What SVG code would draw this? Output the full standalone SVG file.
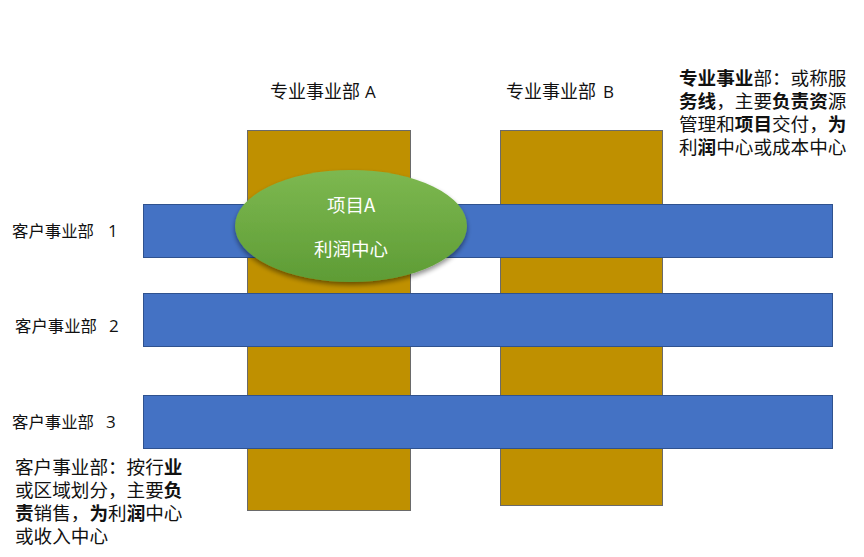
<svg xmlns="http://www.w3.org/2000/svg" width="864" height="557" viewBox="0 0 864 557">
<defs>
<style>
text{font-family:"Noto Sans CJK SC","Liberation Sans",sans-serif;fill:#111;}
.top{font-size:18px;}
.lbl{font-size:16.4px;}
.lat{font-family:"Open Sans","Liberation Sans",sans-serif;font-size:17px;}
.note{font-size:18.6px;}
.b{font-weight:bold;}
.col{fill:#BF9000;stroke:#6a6a6a;stroke-width:1;}
.bar{fill:#4472C4;stroke:#2F528F;stroke-width:1;}
.ell{font-size:18.5px;fill:#fff;text-anchor:middle;}
</style>
<linearGradient id="g" x1="0" y1="0" x2="0" y2="1">
<stop offset="0" stop-color="#7DB850"/>
<stop offset="1" stop-color="#5E9C35"/>
</linearGradient>
<filter id="sh" x="-20%" y="-20%" width="140%" height="150%">
<feGaussianBlur in="SourceAlpha" stdDeviation="2.5"/>
<feOffset dx="0" dy="3" result="o"/>
<feComponentTransfer><feFuncA type="linear" slope="0.45"/></feComponentTransfer>
<feMerge><feMergeNode/><feMergeNode in="SourceGraphic"/></feMerge>
</filter>
</defs>
<rect width="864" height="557" fill="#fff"/>
<g id="colA"><rect class="col" x="247.5" y="130.5" width="163" height="380"/></g>
<g id="colB"><rect class="col" x="500.5" y="130.5" width="162" height="375"/></g>
<g id="bar1"><rect class="bar" x="143.5" y="204.5" width="689" height="53"/></g>
<g id="bar2"><rect class="bar" x="143.5" y="293.5" width="689" height="53"/></g>
<g id="bar3"><rect class="bar" x="143.5" y="395.5" width="689" height="53"/></g>
<g id="projA">
<ellipse cx="351" cy="226" rx="116" ry="56" fill="url(#g)" filter="url(#sh)"/>
<text class="ell" x="351" y="212">项目A</text>
<text class="ell" x="351" y="256">利润中心</text>
</g>
<g id="labels">
<text class="top" x="270" y="98">专业事业部<tspan class="lat" x="365">A</tspan></text>
<text class="top" x="506" y="98">专业事业部<tspan class="lat" x="603">B</tspan></text>
<text class="lbl" x="12" y="237">客户事业部<tspan class="lat" x="108">1</tspan></text>
<text class="lbl" x="15" y="332">客户事业部<tspan class="lat" x="109">2</tspan></text>
<text class="lbl" x="12" y="428">客户事业部<tspan class="lat" x="106">3</tspan></text>
</g>
<g id="noteTop">
<text class="note" x="679" y="85"><tspan class="b">专业事业</tspan>部：或称服<tspan x="679" y="108"><tspan class="b">务线</tspan>，主要<tspan class="b">负责资</tspan>源</tspan><tspan x="679" y="131">管理和<tspan class="b">项目</tspan>交付，<tspan class="b">为</tspan></tspan><tspan x="679" y="154">利<tspan class="b">润</tspan>中心或成本中心</tspan></text>
</g>
<g id="noteBottom">
<text class="note" x="15" y="474">客户事业部：按行<tspan class="b">业</tspan><tspan x="15" y="497">或区域划分，主要<tspan class="b">负</tspan></tspan><tspan x="15" y="520"><tspan class="b">责</tspan>销售，<tspan class="b">为</tspan>利<tspan class="b">润</tspan>中心</tspan><tspan x="15" y="543">或收入中心</tspan></text>
</g>
<g id="connectors"/>
</svg>
